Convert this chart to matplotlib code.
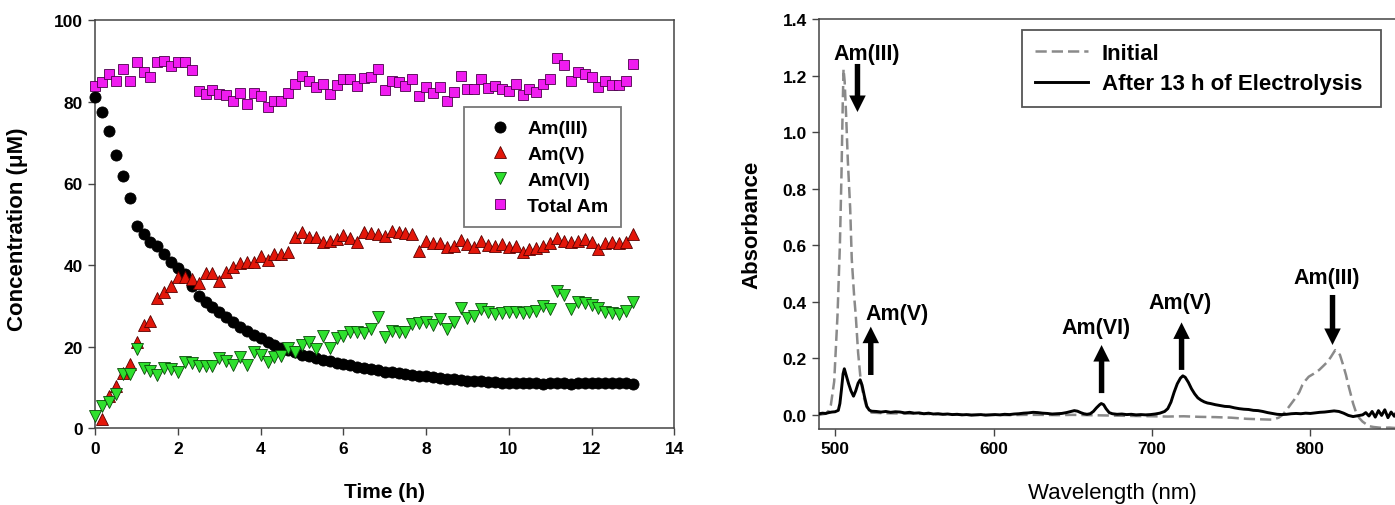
import numpy as np
import matplotlib
matplotlib.use("Agg")
import matplotlib.pyplot as plt

plt.rcParams['font.family'] = ['Liberation Sans', 'DejaVu Sans']

# ---------------- data: left panel (sampled every 10 min) ----------------
n_samples = 79
time_h = np.arange(n_samples) * 10 / 60.0

am3 = [81.1, 77.6, 72.9, 67.0, 61.8, 56.4, 49.7, 47.6, 45.7, 44.8,
       42.7, 40.8, 39.2, 37.8, 35.0, 32.5, 30.9, 29.7, 28.4, 27.2,
       26.0, 24.8, 23.9, 22.9, 22.1, 21.2, 20.4, 19.8, 19.2, 18.6,
       18.0, 17.6, 17.2, 16.8, 16.5, 16.1, 15.7, 15.4, 15.1, 14.8,
       14.5, 14.2, 13.9, 13.7, 13.5, 13.3, 13.1, 12.9, 12.7, 12.6,
       12.4, 12.2, 12.0, 11.9, 11.7, 11.6, 11.5, 11.4, 11.3, 11.2,
       11.1, 11.1, 11.0, 11.0, 11.1, 10.9, 11.0, 11.1, 11.0, 10.9,
       11.0, 11.1, 11.0, 11.2, 11.1, 11.2, 11.0, 11.1, 10.9]
am5 = [np.nan, 2.4, 8.0, 10.4, 13.6, 15.8, 21.1, 25.3, 26.4, 31.9,
       33.3, 35.0, 37.0, 37.0, 36.6, 35.5, 38.1, 38.1, 36.2, 38.2,
       39.5, 40.5, 40.7, 40.7, 42.2, 41.3, 42.7, 42.7, 43.1, 46.8,
       48.0, 46.8, 46.8, 45.6, 46.0, 46.4, 47.4, 46.6, 45.7, 48.0,
       47.9, 47.6, 47.2, 48.4, 48.0, 47.9, 47.6, 43.5, 46.0, 45.4,
       45.4, 44.4, 44.8, 46.2, 45.2, 44.4, 46.0, 45.0, 44.8, 45.2,
       44.4, 44.8, 43.1, 43.9, 44.1, 44.8, 45.4, 46.6, 46.0, 45.7,
       46.0, 46.4, 45.7, 43.9, 45.4, 45.6, 45.4, 45.7, 47.6]
am6 = [3.1, 5.4, 6.5, 8.4, 13.3, 13.3, 19.4, 14.9, 14.1, 13.1,
       14.9, 14.5, 13.9, 16.2, 16.0, 15.3, 15.2, 15.2, 17.2, 16.6,
       15.5, 17.4, 15.5, 18.6, 18.0, 16.2, 17.4, 17.8, 19.8, 18.6,
       20.4, 21.2, 19.4, 22.7, 19.8, 22.1, 22.7, 23.5, 23.5, 23.4,
       24.3, 27.2, 22.3, 23.9, 23.5, 23.5, 25.6, 25.8, 26.0, 25.3,
       26.8, 24.3, 26.1, 29.4, 27.0, 27.6, 29.2, 28.4, 28.0, 28.3,
       28.4, 28.4, 28.3, 28.6, 28.8, 29.9, 29.2, 33.7, 32.7, 29.2,
       31.0, 30.7, 30.2, 29.4, 28.6, 28.3, 28.0, 28.8, 31.0]
total_am = [84.0, 85.0, 86.8, 85.2, 88.1, 85.2, 89.7, 87.4, 86.0, 89.7,
            90.1, 88.9, 89.7, 89.7, 87.8, 82.7, 81.9, 82.9, 81.9, 81.7,
            80.3, 82.3, 79.5, 82.2, 81.5, 78.7, 80.3, 80.3, 82.3, 84.4,
            86.4, 85.2, 83.6, 84.4, 81.9, 84.1, 85.6, 85.6, 84.0, 85.8,
            86.0, 88.1, 83.0, 85.2, 84.8, 84.0, 85.5, 81.4, 83.6, 82.3,
            83.6, 80.3, 82.5, 86.4, 83.2, 83.2, 85.6, 83.3, 84.0, 83.2,
            82.7, 84.4, 81.7, 83.2, 82.5, 84.4, 85.6, 90.7, 89.0, 85.2,
            87.3, 86.8, 86.0, 83.6, 85.2, 84.1, 84.1, 85.2, 89.3]

# ---------------- data: right panel spectra ----------------
wl_after = [490, 492, 494, 496, 498, 500, 502, 503, 504, 505, 505.8, 507, 508.5, 510,
            511.6, 513, 514.5, 515.8, 517, 518.5, 520, 521.5, 523, 526, 529, 532, 535,
            538, 541, 544, 547, 550, 553, 556, 559, 562, 565, 568, 571, 574, 577, 580,
            583, 586, 589, 592, 595, 598, 601, 604, 607, 610, 613, 616, 619, 622, 625,
            628, 631, 634, 637, 640, 643, 646, 649, 651, 653, 655, 657, 659, 661, 663,
            665, 667, 668, 669.5, 671, 673, 675, 678, 681, 684, 687, 690, 693, 696, 699,
            702, 705, 708, 710, 712, 714, 716, 718, 719.5, 721, 723, 725, 727, 729, 731,
            733, 735, 737, 740, 743, 746, 749, 752, 755, 758, 761, 764, 767, 770, 773,
            776, 779, 782, 785, 788, 791, 794, 797, 800, 803, 806, 809, 812, 815, 818,
            821, 824, 827, 830, 833, 835, 837, 839, 841, 843, 845, 847, 849, 851, 853,
            855, 857, 859]
abs_after = [0.004, 0.006, 0.005, 0.008, 0.010, 0.011, 0.016, 0.040, 0.090, 0.145, 0.163,
             0.140, 0.110, 0.085, 0.066, 0.085, 0.112, 0.124, 0.105, 0.065, 0.030, 0.017,
             0.013, 0.012, 0.010, 0.012, 0.009, 0.011, 0.010, 0.007, 0.009, 0.006, 0.007,
             0.004, 0.006, 0.003, 0.004, 0.002, 0.003, 0.001, 0.002, 0.000, 0.001, -0.001,
             0.000, 0.001, -0.001, 0.000, 0.001, 0.000, 0.002, 0.001, 0.003, 0.004, 0.006,
             0.007, 0.009, 0.008, 0.006, 0.005, 0.003, 0.004, 0.005, 0.008, 0.012, 0.015,
             0.013, 0.008, 0.004, 0.002, 0.004, 0.012, 0.025, 0.036, 0.040, 0.036, 0.022,
             0.008, 0.004, 0.002, 0.003, 0.001, 0.002, 0.000, 0.001, 0.000, 0.001, 0.003,
             0.006, 0.012, 0.022, 0.045, 0.080, 0.110, 0.130, 0.138, 0.133, 0.115, 0.092,
             0.074, 0.060, 0.052, 0.046, 0.042, 0.040, 0.036, 0.033, 0.030, 0.029, 0.025,
             0.022, 0.020, 0.019, 0.016, 0.015, 0.012, 0.008, 0.005, 0.002, 0.001, 0.002,
             0.004, 0.005, 0.004, 0.006, 0.005, 0.007, 0.009, 0.010, 0.012, 0.014, 0.012,
             0.006, -0.002, -0.006, -0.003, 0.000, 0.008, -0.004, 0.012, -0.008, 0.015,
             -0.002, 0.018, -0.010, 0.010, -0.005, 0.016, 0.000, 0.008]

wl_init = [490, 492, 494, 496, 497.3, 499.4, 501.5, 503, 504, 504.8, 505.3, 506, 507, 508,
           509.5, 510.5, 512, 513, 514.5, 516.2, 518, 519.4, 521, 523, 530, 540, 550, 560,
           570, 580, 590, 600, 610, 620, 630, 640, 650, 660, 670, 680, 690, 700, 710, 720,
           730, 740, 750, 760, 770, 776, 780, 782.5, 786, 790, 793, 795, 797, 799, 802,
           805.6, 808, 810.9, 813, 815.7, 817, 818.7, 820.5, 822.5, 824, 825.6, 827,
           828.8, 831, 833, 835, 837, 840, 845, 850, 855, 859]
abs_init = [0.000, 0.002, 0.004, 0.015, 0.035, 0.118, 0.353, 0.60, 0.85, 1.10, 1.223, 1.18,
            1.05, 0.90, 0.73, 0.55, 0.42, 0.353, 0.22, 0.118, 0.065, 0.035, 0.015, 0.008,
            0.006, 0.005, 0.004, 0.003, 0.002, 0.001, 0.000, 0.000, -0.001, 0.000, 0.000,
            -0.001, 0.000, -0.001, -0.002, -0.003, -0.004, -0.005, -0.006, -0.005, -0.007,
            -0.008, -0.010, -0.014, -0.016, -0.017, -0.010, 0.000, 0.025, 0.055, 0.080,
            0.106, 0.122, 0.135, 0.145, 0.159, 0.172, 0.188, 0.205, 0.229, 0.224, 0.212,
            0.180, 0.141, 0.105, 0.071, 0.040, 0.010, -0.012, -0.024, -0.032, -0.040,
            -0.043, -0.046, -0.045, -0.047, -0.046]

# annotations: label, text position, arrow tail, arrow head
ann_labels = ["Am(III)", "Am(V)", "Am(VI)", "Am(V)", "Am(III)"]
ann_text_xy = [(520, 1.277), (538.9, 0.359), (664.6, 0.308), (717.9, 0.398), (810.2, 0.485)]
ann_tail = [(514.1, 1.241), (522.5, 0.141), (668.2, 0.077), (718.7, 0.159), (814.0, 0.424)]
ann_head = [(514.1, 1.071), (522.5, 0.312), (668.2, 0.247), (718.7, 0.327), (814.0, 0.247)]

# ---------------- figure ----------------
W, H = 1395, 506
fig = plt.figure(figsize=(W / 100, H / 100), dpi=100)

def frac(x0, y_top, x1, y_bot):
    return [x0 / W, (H - y_bot) / H, (x1 - x0) / W, (y_bot - y_top) / H]

spine_col = '#444444'
tick_fs = 12.5

# ---- left panel ----
ax1 = fig.add_axes(frac(95.3, 21.3, 674.2, 429.3))
ax1.plot(time_h, am3, 'o', ms=8, mfc='black', mec='black', mew=0.6,
         label='Am(III)', clip_on=False, zorder=3)
ax1.plot(time_h, am5, '^', ms=8.3, mfc='#e3170a', mec='#5a0000', mew=0.6,
         label='Am(V)', clip_on=False, zorder=4)
ax1.plot(time_h, am6, 'v', ms=8.3, mfc='#2ee02e', mec='#0a4a0a', mew=0.6,
         label='Am(VI)', clip_on=False, zorder=5)
ax1.plot(time_h, total_am, 's', ms=7.2, mfc='#f01cf0', mec='#4a004a', mew=0.6,
         label='Total Am', clip_on=False, zorder=6)
ax1.set_xlim(0, 14)
ax1.set_ylim(0, 100)
ax1.set_xticks(np.arange(0, 15, 2))
ax1.set_yticks(np.arange(0, 101, 20))
ax1.set_xlabel('Time (h)', fontsize=15, fontweight='bold')
ax1.set_ylabel('Concentration (μM)', fontsize=16, fontweight='bold')
ax1.xaxis.set_label_coords(0.5, -0.154)
ax1.xaxis.label.set_verticalalignment('center')
ax1.yaxis.set_label_coords(-0.1336, 0.49)
ax1.yaxis.label.set_verticalalignment('center')
leg1 = ax1.legend(loc='upper left', bbox_to_anchor=(0.637, 0.787), frameon=True,
                  fancybox=False, edgecolor='#777777', framealpha=1,
                  prop={'size': 14, 'weight': 'bold'}, handletextpad=0.2,
                  borderpad=0.65, labelspacing=0.42, handlelength=2.4, borderaxespad=0)
leg1.get_frame().set_linewidth(1.3)

# ---- right panel ----
ax2 = fig.add_axes(frac(819.3, 20, 819.3 + 370 * 1.584, 430))
ax2.plot(wl_init, abs_init, color='#8a8a8a', lw=1.8, ls=(0, (4.5, 2.0)),
         label='Initial', zorder=2)
ax2.plot(wl_after, abs_after, color='black', lw=2.1, label='After 13 h of Electrolysis ',
         zorder=3)
ax2.set_xlim(490, 860)
ax2.set_ylim(-0.05, 1.4)
ax2.set_xticks([500, 600, 700, 800])
ax2.set_yticks(np.arange(0, 1.41, 0.2))
ax2.yaxis.set_major_formatter(matplotlib.ticker.FormatStrFormatter('%.1f'))
ax2.set_xlabel('Wavelength (nm)', fontsize=16)
ax2.set_ylabel('Absorbance', fontsize=16, fontweight='bold')
ax2.xaxis.set_label_coords(0.5, -0.154)
ax2.xaxis.label.set_verticalalignment('center')
ax2.yaxis.set_label_coords(-0.115, 0.5)
ax2.yaxis.label.set_verticalalignment('center')
leg2 = ax2.legend(loc='upper left', bbox_to_anchor=(0.346, 0.973), frameon=True,
                  fancybox=False, edgecolor='#555555', framealpha=1,
                  prop={'size': 16, 'weight': 'bold'}, handlelength=2.4,
                  handletextpad=0.6, borderpad=0.58, labelspacing=0.42, borderaxespad=0)
leg2.get_frame().set_linewidth(1.3)

for lab, txy, tail, head in zip(ann_labels, ann_text_xy, ann_tail, ann_head):
    ax2.text(txy[0], txy[1], lab, ha='center', va='center', fontsize=15.5,
             fontweight='bold', zorder=5)
    ax2.annotate('', xy=head, xytext=tail,
                 arrowprops=dict(arrowstyle='simple,head_length=0.85,head_width=0.85,tail_width=0.28',
                                 mutation_scale=14, color='black', shrinkA=0, shrinkB=0, lw=0),
                 zorder=5)

for ax in (ax1, ax2):
    for s in ax.spines.values():
        s.set_color(spine_col)
        s.set_linewidth(1.1)
    ax.tick_params(direction='out', length=5, width=1.0, color=spine_col,
                   labelsize=tick_fs, pad=4)
    for lbl in ax.get_xticklabels() + ax.get_yticklabels():
        lbl.set_fontweight('bold')

fig.savefig('out.png', dpi=100)
